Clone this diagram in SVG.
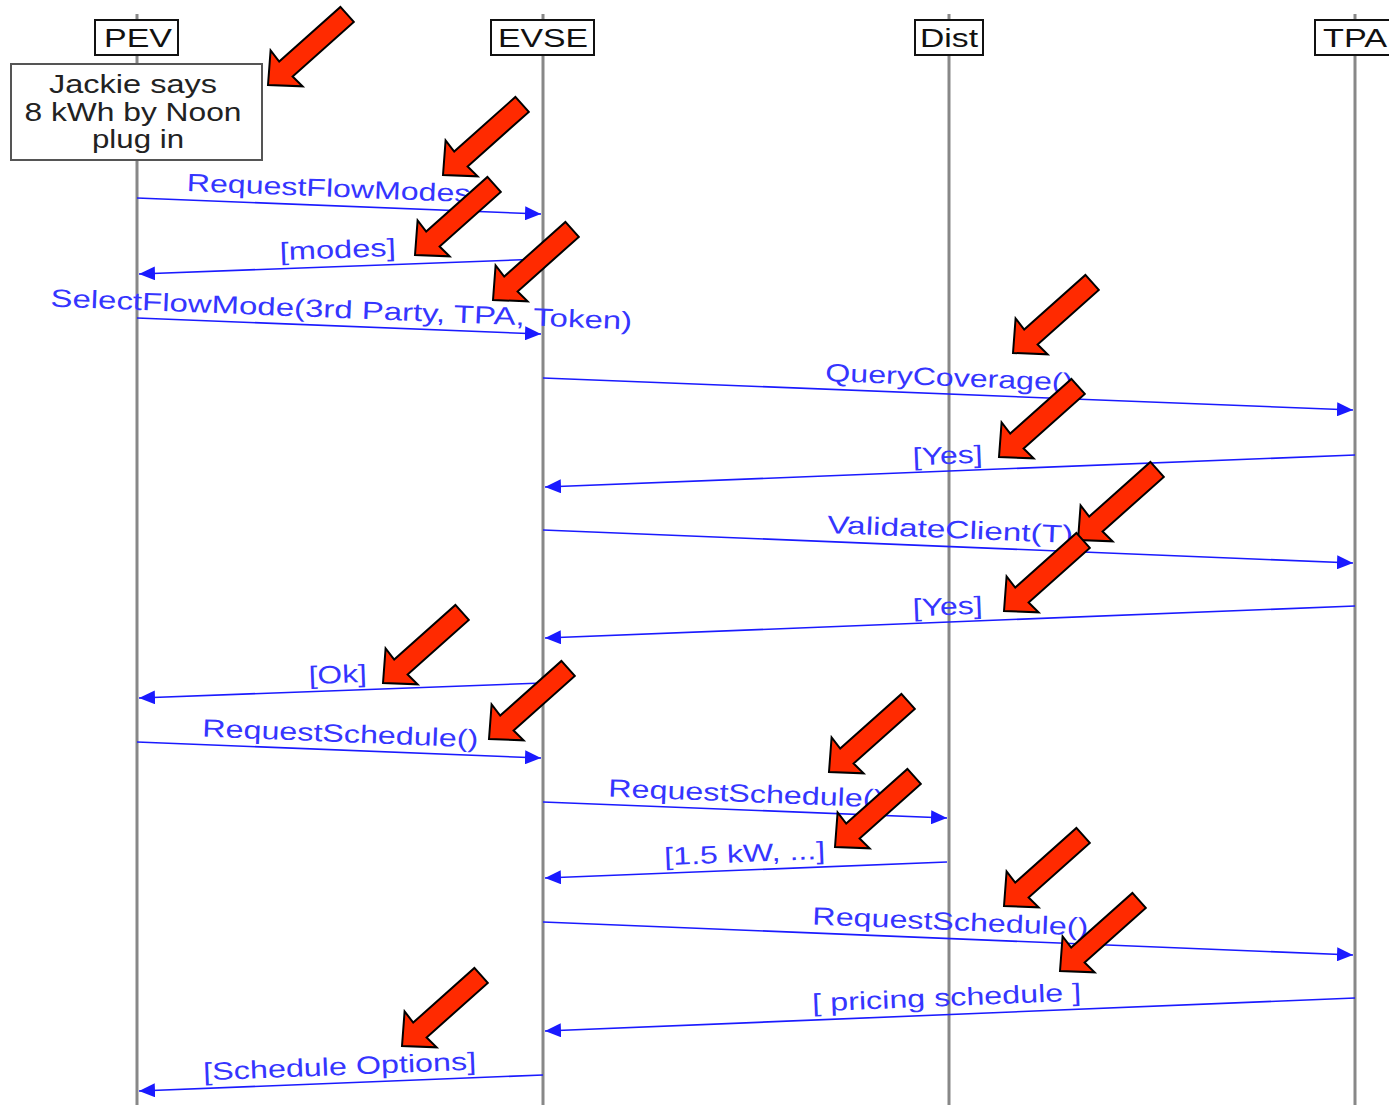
<svg xmlns="http://www.w3.org/2000/svg" xmlns:xlink="http://www.w3.org/1999/xlink" width="1389" height="1105" viewBox="0 0 1389 1105">
<style>
.life{stroke:#888;stroke-width:3;fill:none}
.hdr{fill:#fff;stroke:#111;stroke-width:2}
.htxt{font-family:"Liberation Sans",Arial,sans-serif;font-size:26px;fill:#111;text-anchor:middle}
.note{fill:#fff;stroke:#555;stroke-width:2}
.ntxt{font-family:"Liberation Sans",Arial,sans-serif;font-size:25px;fill:#222;text-anchor:middle}
.msg{stroke:#1a1aff;stroke-width:1.6;fill:none;marker-end:url(#ah)}
.mtxt{font-family:"Liberation Sans",Arial,sans-serif;font-size:25px;fill:#3535ff;text-anchor:middle}
.red{fill:#ff2a00;stroke:#000;stroke-width:2;stroke-linejoin:miter}
</style>
<defs>
<marker id="ah" viewBox="0 0 16 14" refX="16" refY="7" markerWidth="16" markerHeight="14" orient="auto" markerUnits="userSpaceOnUse">
<path d="M0,0 L16,7 L0,14 Z" fill="#1a1aff"/>
</marker>
<path id="redArrow" class="red" d="M0,0 L2.6,-34.6 L11.2,-23.4 L72.4,-78.1 L85.8,-63.1 L24.6,-8.5 L34.6,1.3 Z"/>
</defs>
<rect width="1389" height="1105" fill="#fff"/>

<g id="lifelines">
<line class="life" x1="137" y1="14" x2="137" y2="1105"/>
<line class="life" x1="543" y1="14" x2="543" y2="1105"/>
<line class="life" x1="949" y1="14" x2="949" y2="1105"/>
<line class="life" x1="1355" y1="14" x2="1355" y2="1105"/>
</g>

<g id="PEV"><rect class="hdr" x="95" y="20" width="83" height="35"/><text class="htxt" x="138" y="47" textLength="68" lengthAdjust="spacingAndGlyphs">PEV</text></g>
<g id="EVSE"><rect class="hdr" x="491" y="20" width="103" height="35"/><text class="htxt" x="543" y="47" textLength="90" lengthAdjust="spacingAndGlyphs">EVSE</text></g>
<g id="Dist"><rect class="hdr" x="915" y="20" width="68" height="35"/><text class="htxt" x="949" y="47" textLength="58" lengthAdjust="spacingAndGlyphs">Dist</text></g>
<g id="TPA"><rect class="hdr" x="1315" y="20" width="82" height="35"/><text class="htxt" x="1355" y="47" textLength="64" lengthAdjust="spacingAndGlyphs">TPA</text></g>

<g id="note">
<rect class="note" x="11" y="64" width="251" height="96"/>
<text class="ntxt" x="133" y="93" textLength="168" lengthAdjust="spacingAndGlyphs">Jackie says</text>
<text class="ntxt" x="133" y="121" textLength="217" lengthAdjust="spacingAndGlyphs">8 kWh by Noon</text>
<text class="ntxt" x="138" y="148" textLength="92" lengthAdjust="spacingAndGlyphs">plug in</text>
</g>

<g id="connectors">
<line class="msg" x1="137" y1="198" x2="541" y2="214"/>
<text class="mtxt" x="339" y="197" transform="rotate(2.27 339 197)" textLength="305" lengthAdjust="spacingAndGlyphs">RequestFlowModes()</text>

<line class="msg" x1="543" y1="259" x2="139" y2="274"/>
<text class="mtxt" x="338" y="258" transform="rotate(-2.12 338 258)" textLength="116" lengthAdjust="spacingAndGlyphs">[modes]</text>

<line class="msg" x1="137" y1="318" x2="541" y2="334"/>
<text class="mtxt" x="341" y="318" transform="rotate(2.27 341 318)" textLength="582" lengthAdjust="spacingAndGlyphs">SelectFlowMode(3rd Party, TPA, Token)</text>

<line class="msg" x1="543" y1="378" x2="1353" y2="410"/>
<text class="mtxt" x="949" y="386" transform="rotate(2.26 949 386)" textLength="248" lengthAdjust="spacingAndGlyphs">QueryCoverage()</text>

<line class="msg" x1="1355" y1="455" x2="545" y2="487"/>
<text class="mtxt" x="948" y="464" transform="rotate(-2.26 948 464)" textLength="70" lengthAdjust="spacingAndGlyphs">[Yes]</text>

<line class="msg" x1="543" y1="530" x2="1353" y2="563"/>
<text class="mtxt" x="950" y="538" transform="rotate(2.33 950 538)" textLength="246" lengthAdjust="spacingAndGlyphs">ValidateClient(T)</text>

<line class="msg" x1="1355" y1="606" x2="545" y2="638"/>
<text class="mtxt" x="948" y="615" transform="rotate(-2.26 948 615)" textLength="70" lengthAdjust="spacingAndGlyphs">[Yes]</text>

<line class="msg" x1="543" y1="683" x2="139" y2="698"/>
<text class="mtxt" x="338" y="683" transform="rotate(-2.12 338 683)" textLength="58" lengthAdjust="spacingAndGlyphs">[Ok]</text>

<line class="msg" x1="137" y1="742" x2="541" y2="758"/>
<text class="mtxt" x="340" y="742" transform="rotate(2.27 340 742)" textLength="276" lengthAdjust="spacingAndGlyphs">RequestSchedule()</text>

<line class="msg" x1="543" y1="802" x2="947" y2="818"/>
<text class="mtxt" x="746" y="802" transform="rotate(2.27 746 802)" textLength="276" lengthAdjust="spacingAndGlyphs">RequestSchedule()</text>

<line class="msg" x1="947" y1="862" x2="545" y2="878"/>
<text class="mtxt" x="745" y="862" transform="rotate(-2.27 745 862)" textLength="161" lengthAdjust="spacingAndGlyphs">[1.5 kW, ...]</text>

<line class="msg" x1="543" y1="922" x2="1353" y2="955"/>
<text class="mtxt" x="950" y="930" transform="rotate(2.33 950 930)" textLength="276" lengthAdjust="spacingAndGlyphs">RequestSchedule()</text>

<line class="msg" x1="1355" y1="998" x2="545" y2="1031"/>
<text class="mtxt" x="947" y="1006" transform="rotate(-2.33 947 1006)" textLength="269" lengthAdjust="spacingAndGlyphs">[ pricing schedule ]</text>

<line class="msg" x1="543" y1="1075" x2="139" y2="1091"/>
<text class="mtxt" x="340" y="1075" transform="rotate(-2.26 340 1075)" textLength="273" lengthAdjust="spacingAndGlyphs">[Schedule Options]</text>
</g>

<g id="highlights">
<use xlink:href="#redArrow" x="268" y="85"/>
<use xlink:href="#redArrow" x="443" y="175"/>
<use xlink:href="#redArrow" x="415" y="255"/>
<use xlink:href="#redArrow" x="493" y="300"/>
<use xlink:href="#redArrow" x="1013" y="353"/>
<use xlink:href="#redArrow" x="999" y="457"/>
<use xlink:href="#redArrow" x="1078" y="540"/>
<use xlink:href="#redArrow" x="1004" y="611"/>
<use xlink:href="#redArrow" x="383" y="683"/>
<use xlink:href="#redArrow" x="489" y="739"/>
<use xlink:href="#redArrow" x="829" y="772"/>
<use xlink:href="#redArrow" x="835" y="847"/>
<use xlink:href="#redArrow" x="1004" y="906"/>
<use xlink:href="#redArrow" x="1060" y="971"/>
<use xlink:href="#redArrow" x="402" y="1046"/>
</g>
</svg>
